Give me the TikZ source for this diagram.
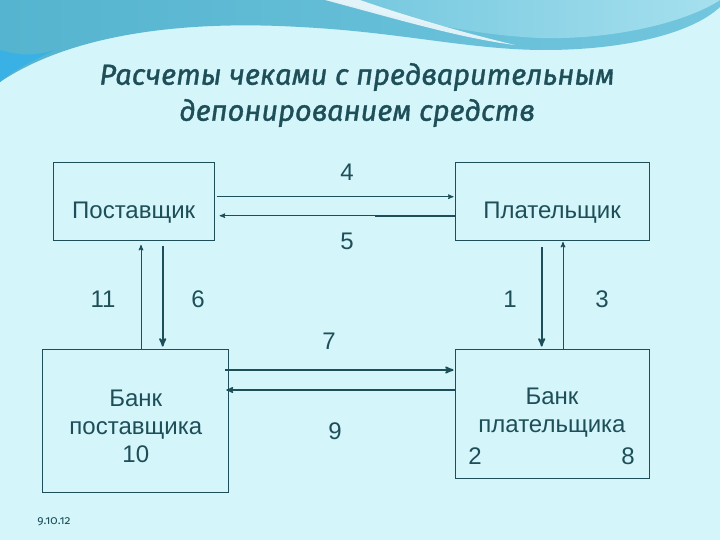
\documentclass[tikz,border=0pt]{standalone}
\usepackage{fontspec}
\setmainfont{Liberation Sans}
\newfontfamily\titlefont{Fira Sans}[ItalicFeatures={FakeBold=1.2}]
\newfontfamily\datefont[Numbers=OldStyle]{Fira Sans}
\usetikzlibrary{arrows}

\definecolor{bgcyan}{HTML}{D4F5FA}
\definecolor{ink}{HTML}{1E4F58}
\definecolor{waveA}{HTML}{55B4CF}
\definecolor{waveB}{HTML}{72C6DE}
\definecolor{waveC}{HTML}{A6E0EE}

\begin{document}
\begin{tikzpicture}[x=1pt,y=-1pt,>=stealth',
    box node/.style={draw=ink,line width=0.9pt,inner sep=0pt},
    txt node/.style={font=\fontsize{24}{28}\selectfont,text=ink,align=center},
    num node/.style={font=\fontsize{24}{28}\selectfont,text=ink,anchor=base},
    thin arr/.style={->,draw=ink,line width=1pt},
    thick arr/.style={->,draw=ink,line width=1.8pt}]

\useasboundingbox (0,0) rectangle (720,540);
\fill[bgcyan] (0,0) rectangle (720,540);

% wave at the top
\shade[left color=waveA,right color=waveB]
  (0,0) -- (720,0) -- (720,7) .. controls (690,35) and (620,50) .. (545,50)
  .. controls (470,50) and (400,32) .. (300,27)
  .. controls (180,20) and (70,35) .. (0,82) -- cycle;
\shade[left color=waveB,right color=waveC]
  (330,0) .. controls (400,18) and (470,35) .. (540,38)
  .. controls (620,40) and (690,20) .. (720,0) -- cycle;
\fill[white,opacity=0.8]
  (325,0) .. controls (400,20) and (460,38) .. (515,45)
  .. controls (460,32) and (400,14) .. (360,0) -- cycle;
\fill[cyan!60!waveB]
  (0,50) .. controls (20,56) and (35,56) .. (55,50)
  .. controls (30,62) and (10,72) .. (0,82) -- cycle;

% title
\node[font=\titlefont\itshape\fontsize{29}{36}\selectfont,text=ink,align=center]
  (title) at (357,95) {Расчеты чеками с предварительным\\депонированием средств};

% boxes
\node[box node,minimum width=161pt,minimum height=78pt] (sup) at (133.7,201.4) {};
\node[box node,minimum width=194pt,minimum height=78pt] (pay) at (552,201.4) {};
\node[box node,minimum width=186pt,minimum height=143pt] (bsup) at (135.8,420.5) {};
\node[box node,minimum width=194pt,minimum height=129pt] (bpay) at (552,413.5) {};

\node[txt node] (supt) at (133.7,212.7) {Поставщик};
\node[txt node] (payt) at (552,212.7) {Плательщик};
\node[txt node] (bsupt) at (135.8,426.5) {Банк\\поставщика\\10};
\node[txt node] (bpayt) at (552,412.5) {Банк\\плательщика};
\node[num node] (n2) at (475,464) {2};
\node[num node] (n8) at (628,464) {8};

% numbers
\node[num node] (n4) at (347,181) {4};
\node[num node] (n5) at (347,249) {5};
\node[num node] (n11) at (103,307) {11};
\node[num node] (n6) at (198,307) {6};
\node[num node] (n1) at (510,307) {1};
\node[num node] (n3) at (602,307) {3};
\node[num node] (n7) at (329,349) {7};
\node[num node] (n9) at (335,439) {9};

% arrows
\draw[thin arr,shorten <=2pt,shorten >=1pt] ([yshift=4.7pt]sup.east) -- ([yshift=4.7pt]pay.west);
\draw[thin arr,shorten >=5pt] ([yshift=-14.3pt]pay.west) -- ([yshift=-14.3pt]sup.east);
\draw[ink,line width=1.8pt] ([yshift=-14.3pt]pay.west) -- ++(-80,0);

\draw[thin arr,shorten >=4pt] ([xshift=5.2pt]bsup.north) -- ([xshift=5.2pt]bsup.north |- sup.south);
\draw[thick arr,shorten <=5pt,shorten >=2pt] ([xshift=29pt]sup.south) -- ([xshift=29pt]sup.south |- bsup.north);
\draw[thick arr,shorten <=6pt,shorten >=2pt] ([xshift=-10.3pt]pay.south) -- ([xshift=-10.3pt]pay.south |- bpay.north);
\draw[thin arr,shorten >=1pt] ([xshift=11pt]bpay.north) -- ([xshift=11pt]bpay.north |- pay.south);

\draw[thick arr,shorten <=-4pt,shorten >=1pt] ([yshift=50.5pt]bsup.east) -- ([yshift=50.5pt]bsup.east -| bpay.west);
\draw[thin arr,line width=1.4pt,shorten >=-3pt] ([yshift=30.5pt]bsup.east -| bpay.west) -- ([yshift=30.5pt]bsup.east);
\draw[ink,line width=2pt] ([yshift=30.5pt]bsup.east -| bpay.west) -- ++(-85,0);

% date
\node[font=\datefont\fontsize{12}{14}\selectfont,text=ink] (date) at (54,522) {9.10.12};

\end{tikzpicture}
\end{document}
